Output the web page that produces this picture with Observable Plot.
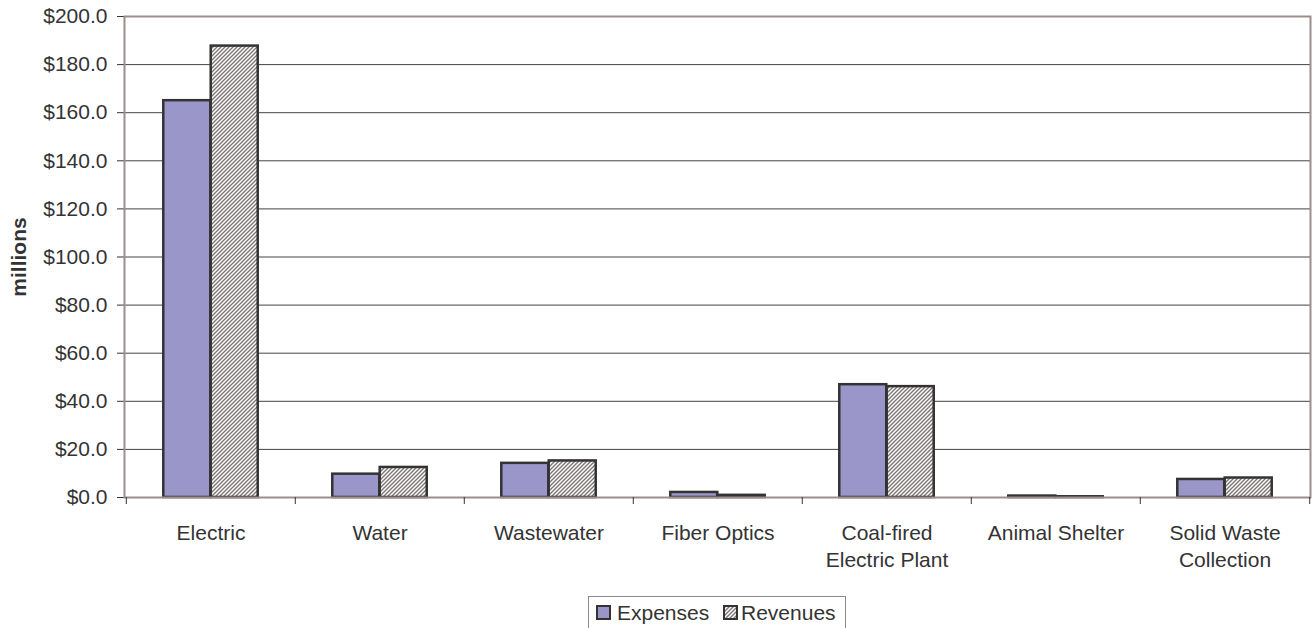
<!DOCTYPE html>
<html>
<head>
<meta charset="utf-8">
<script src="https://cdn.jsdelivr.net/npm/d3@7"></script>
<script src="https://cdn.jsdelivr.net/npm/@observablehq/plot@0.6"></script>
<style>
  html, body { margin: 0; padding: 0; background: #fff; overflow: hidden; }
  #wrap { position: relative; width: 1312px; height: 628px; font-family: "Liberation Sans", Arial, sans-serif; color: #333; }
  #legend { position: absolute; left: 588px; top: 596px; width: 258px; height: 40px; box-sizing: border-box; border: 1px solid #8a8a8a; background: #fff; }
  #legend .sw { position: absolute; top: 8px; width: 15px; height: 15px; }
  #legend .lt { position: absolute; top: 4px; font-size: 21px; line-height: 24px; white-space: nowrap; color: #333; }
</style>
</head>
<body>
<div id="wrap"></div>
<script>
// ---- data ----
const categories = ["Electric", "Water", "Wastewater", "Fiber Optics", "Coal-fired Electric Plant", "Animal Shelter", "Solid Waste Collection"];
const tickLabels = ["Electric", "Water", "Wastewater", "Fiber Optics", "Coal-fired\nElectric Plant", "Animal Shelter", "Solid Waste\nCollection"];
const expenses = [165.0, 9.7, 14.2, 2.1, 46.9, 0.6, 7.5];
const revenues = [187.7, 12.5, 15.2, 0.9, 46.1, 0.3, 8.1];
const yTicks = [0, 20, 40, 60, 80, 100, 120, 140, 160, 180, 200];
const seriesNames = ["Expenses", "Revenues"];

const rows = categories.map((c, i) => ({category: c, label: tickLabels[i], expense: expenses[i], revenue: revenues[i]}));

const width = 1312, height = 590;
const marginLeft = 124, marginRight = 2, marginTop = 16, marginBottom = 93;
const bw = (width - marginLeft - marginRight) / categories.length;

const expenseFill = "#9a96c9";
const barStroke = "#333";
const frameColor = "#9a8f8b";

const chart = Plot.plot({
  width, height, marginLeft, marginRight, marginTop, marginBottom,
  style: {fontFamily: "'Liberation Sans', Arial, sans-serif", fontSize: "21px", color: "#333", background: "#fff"},
  x: {domain: categories, padding: 0, axis: null},
  y: {domain: [0, 200], ticks: yTicks, tickFormat: d => "$" + d.toFixed(1), tickSize: 7, tickPadding: 10, label: null},
  marks: [
    Plot.ruleY(yTicks.filter(d => d > 0 && d < 200), {stroke: "#444", strokeWidth: 1}),
    Plot.barY(rows, {x: "category", y: "expense", fill: expenseFill, stroke: barStroke, strokeWidth: 2.5, insetLeft: bw * 0.22, insetRight: bw * 0.5}),
    Plot.barY(rows, {x: "category", y: "revenue", fill: "url(#hatch)", stroke: barStroke, strokeWidth: 2.5, insetLeft: bw * 0.5, insetRight: bw * 0.22}),
    Plot.frame({stroke: frameColor, strokeWidth: 2}),
    Plot.ruleX(rows, {x: "category", y1: 0, y2: 0, insetBottom: -7, dx: -bw / 2, stroke: "#333"}),
    Plot.ruleX(rows.slice(-1), {x: "category", y1: 0, y2: 0, insetBottom: -7, dx: bw / 2, stroke: "#333"}),
    Plot.text(rows, {x: "category", y: () => 0, text: "label", lineAnchor: "top", dy: 23, lineHeight: 1.3, fontSize: 21, fill: "#333"}),
    Plot.text(["millions"], {frameAnchor: "left", dx: -105, rotate: -90, textAnchor: "middle", fontWeight: "bold", fontSize: 21, fill: "#333"})
  ]
});

// hatch pattern for revenues
const defs = d3.select(chart).insert("defs", ":first-child");
const pat = defs.append("pattern").attr("id", "hatch").attr("patternUnits", "userSpaceOnUse").attr("width", 4).attr("height", 4);
pat.append("rect").attr("width", 4).attr("height", 4).attr("fill", "#fff");
pat.append("path").attr("d", "M-1,1 L1,-1 M0,4 L4,0 M3,5 L5,3").attr("stroke", "#7d7575").attr("stroke-width", 1.4);

const wrap = document.getElementById("wrap");
wrap.appendChild(chart);

// legend
const legend = document.createElement("div");
legend.id = "legend";
const hatchSvg = `<svg class="sw" width="15" height="15" style="left:134px"><defs><pattern id="hatchL" patternUnits="userSpaceOnUse" width="4" height="4"><rect width="4" height="4" fill="#fff"/><path d="M-1,1 L1,-1 M0,4 L4,0 M3,5 L5,3" stroke="#7d7575" stroke-width="1.4"/></pattern></defs><rect x="1" y="1" width="13" height="13" fill="url(#hatchL)" stroke="${barStroke}" stroke-width="2"/></svg>`;
const expSvg = `<svg class="sw" width="15" height="15" style="left:7px"><rect x="1" y="1" width="13" height="13" fill="${expenseFill}" stroke="${barStroke}" stroke-width="2"/></svg>`;
legend.innerHTML = expSvg + `<span class="lt" style="left:28px">${seriesNames[0]}</span>` + hatchSvg + `<span class="lt" style="left:152px">${seriesNames[1]}</span>`;
wrap.appendChild(legend);
</script>
</body>
</html>
